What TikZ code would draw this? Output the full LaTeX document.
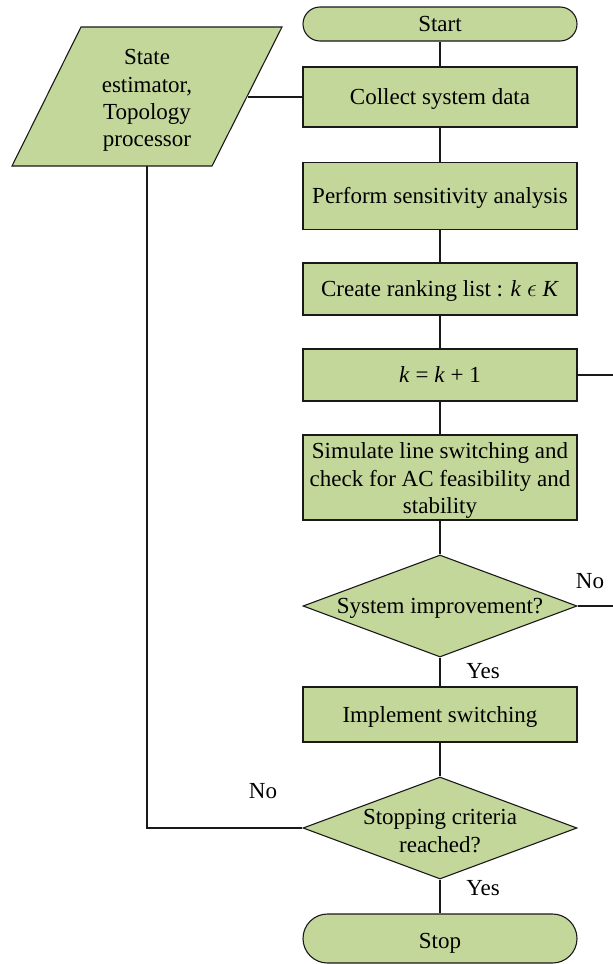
\documentclass[tikz,border=0pt]{standalone}
\usepackage{fontspec}
\setmainfont{Liberation Serif}
\usetikzlibrary{shapes.geometric}
\definecolor{boxgreen}{RGB}{196,215,155}
\definecolor{edgeline}{RGB}{25,25,25}
\begin{document}
\begin{tikzpicture}[x=1pt,y=-1pt,
  txt/.style={font=\fontsize{23}{27.3}\selectfont, align=center, inner sep=0pt},
  oneline/.style={txt, text height=19.2pt, text depth=4pt},
  shapebox/.style={draw=edgeline, fill=boxgreen, line width=1.1pt, minimum width=274pt, inner sep=0pt},
  proc/.style={oneline, shapebox},
  term/.style={proc, rounded corners=#1},
  decision/.style={shape=diamond, draw=edgeline, fill=boxgreen, line width=1.1pt,
    minimum width=274pt, minimum height=102pt, inner sep=0pt},
  link/.style={draw=edgeline, line width=1.1pt}]
\useasboundingbox (0,0) rectangle (613,964);

% input data block (parallelogram)
\draw[edgeline, fill=boxgreen, line width=1.1pt]
  (81,27) -- (282,27) -- (212,166) -- (12,166) -- cycle;
\node[txt] (se) at (147,100.5) {State\\estimator,\\Topology\\processor};
\coordinate (seR) at (247.5,97);
\coordinate (seB) at (147,166);

% main flow
\node[term=17pt, minimum height=34pt] (start) at (440,24) {Start};
\node[proc, minimum height=60pt] (collect) at (440,97) {Collect system data};
\node[proc, minimum height=67pt] (sens) at (440,196) {Perform sensitivity analysis};
\node[proc, minimum height=52pt] (rank) at (440,289) {Create ranking list : \textit{k} $\epsilon$ \textit{K}};
\node[proc, minimum height=52pt] (kinc) at (440,375) {\textit{k} = \textit{k} + 1};
\node[shapebox, minimum height=85pt] (sim) at (440,477.5) {};
\node[txt] (simt) at (440,480.5)
  {Simulate line switching and\\check for AC feasibility and\\stability};
\node[decision] (imp) at (440,606) {};
\node[oneline] (impt) at (440,606) {System improvement?};
\node[proc, minimum height=55pt] (impl) at (440,714.5) {Implement switching};
\node[decision] (crit) at (440,828) {};
\node[txt] (critt) at (440,831) {Stopping criteria\\reached?};
\node[term=24.5pt, minimum height=49pt, text height=23.2pt] (stop) at (440,938.5) {Stop};

% free ends on the right
\coordinate (kR) at (613,375);
\coordinate (impR) at (613,606);

% connectors
\draw[link] (start) -- (collect);
\draw[link] (collect) -- (sens);
\draw[link] (sens) -- (rank);
\draw[link] (rank) -- (kinc);
\draw[link] (kinc) -- (sim);
\draw[link] (sim) -- (imp);
\draw[link] (imp) -- (impl);
\draw[link] (impl) -- (crit);
\draw[link] (crit) -- (stop);
\draw[link] (seR) -- (collect.west);
\draw[link] (kinc.east) -- (kR);
\draw[link] (imp.east) -- (impR);
\draw[link] (seB) |- (crit.west);

% branch labels
\node[oneline] (lno1) at (590,581) {No};
\node[oneline] (lyes1) at (483,671) {Yes};
\node[oneline] (lno2) at (263,791) {No};
\node[oneline] (lyes2) at (483,888) {Yes};
\end{tikzpicture}
\end{document}
